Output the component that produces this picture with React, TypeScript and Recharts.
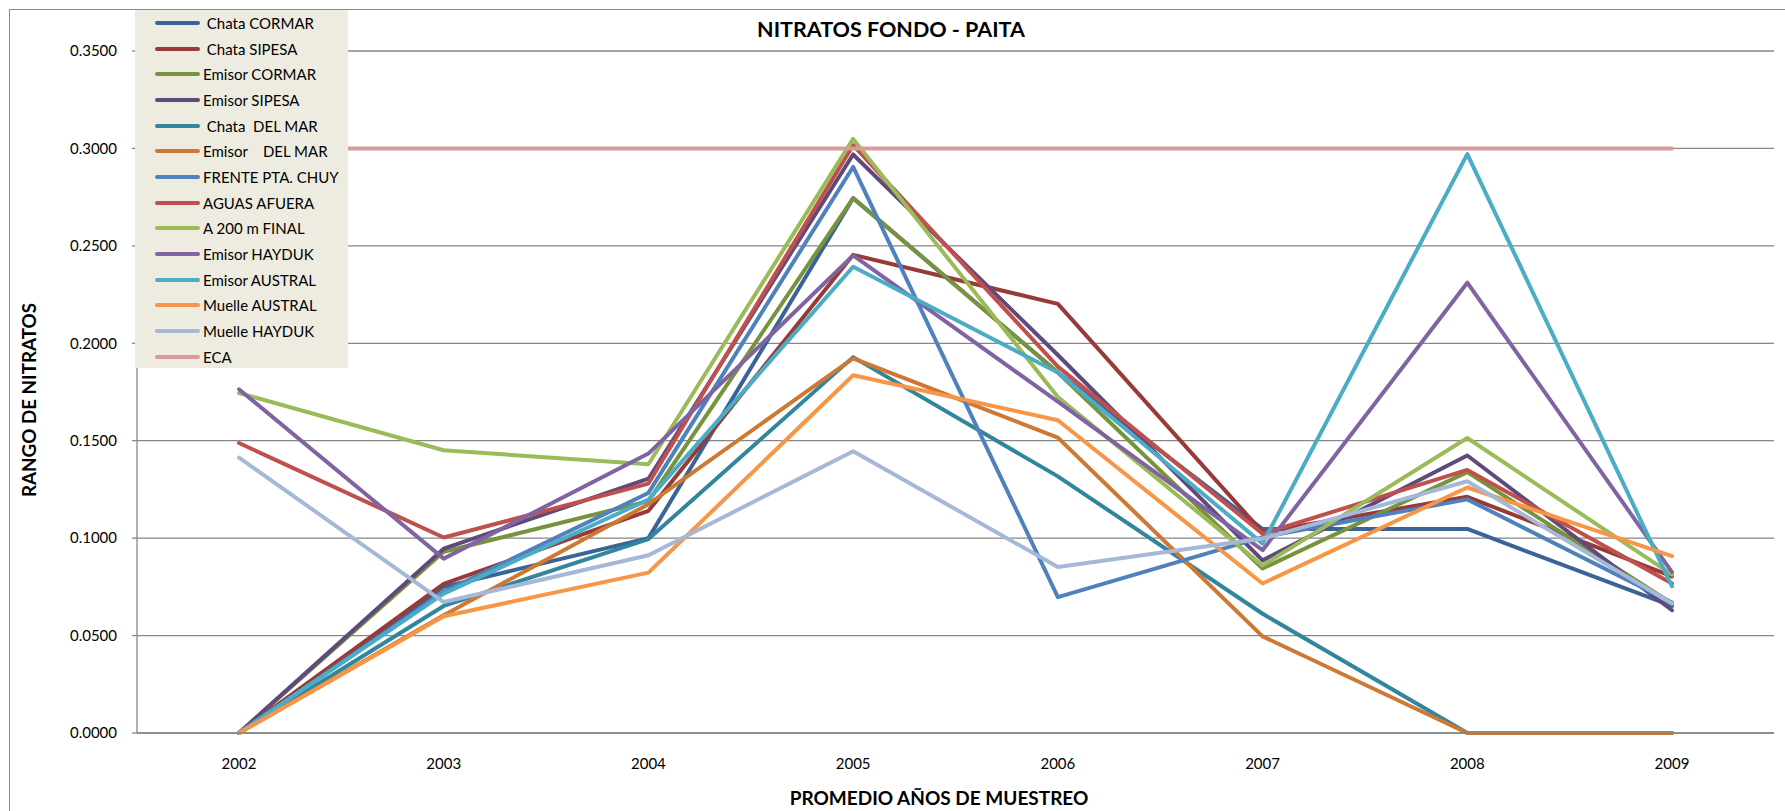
import React from 'react';
import { LineChart, Line, XAxis, YAxis, CartesianGrid, Legend } from 'recharts';

const YEARS = ['2002', '2003', '2004', '2005', '2006', '2007', '2008', '2009'];
const Y_TICKS = [0, 0.05, 0.1, 0.15, 0.2, 0.25, 0.3, 0.35];

const CHATA_CORMAR = [0, 0.075, 0.1, 0.2745, 0.185, 0.1047, 0.1047, 0.0652];
const CHATA_SIPESA = [0, 0.0765, 0.114, 0.2454, 0.2202, 0.103, 0.1212, 0.0804];
const EMISOR_CORMAR = [0, 0.093, 0.119, 0.2745, 0.185, 0.0844, 0.1339, 0.0665];
const EMISOR_SIPESA = [0, 0.0946, 0.1305, 0.2969, 0.194, 0.0886, 0.1424, 0.063];
const CHATA_DEL_MAR = [0, 0.0652, 0.0995, 0.1929, 0.1317, 0.0612, 0, 0];
const EMISOR_DEL_MAR = [0, 0.0604, 0.1174, 0.1923, 0.1516, 0.0496, 0, 0];
const FRENTE_PTA_CHUY = [0, 0.0724, 0.1232, 0.2905, 0.0697, 0.1005, 0.1199, 0.067];
const AGUAS_AFUERA = [0.1488, 0.1003, 0.128, 0.3017, 0.188, 0.1023, 0.135, 0.0767];
const A_200_M_FINAL = [0.1745, 0.1451, 0.1379, 0.3049, 0.1724, 0.086, 0.1514, 0.0813];
const EMISOR_HAYDUK = [0.1764, 0.0895, 0.1434, 0.2451, 0.17, 0.0938, 0.2311, 0.0826];
const EMISOR_AUSTRAL = [0, 0.0715, 0.1198, 0.2393, 0.185, 0.0972, 0.2971, 0.0753];
const MUELLE_AUSTRAL = [0, 0.0599, 0.0823, 0.1836, 0.1605, 0.0767, 0.126, 0.0908];
const MUELLE_HAYDUK = [0.1413, 0.0672, 0.0912, 0.1446, 0.0852, 0.0998, 0.1292, 0.0665];
const ECA = [0.3, 0.3, 0.3, 0.3, 0.3, 0.3, 0.3, 0.3];

const SERIES = [
  { key: 's1', label: ' Chata CORMAR', color: '#3A6397', values: CHATA_CORMAR },
  { key: 's2', label: ' Chata SIPESA', color: '#973A38', values: CHATA_SIPESA },
  { key: 's3', label: 'Emisor CORMAR', color: '#77933C', values: EMISOR_CORMAR },
  { key: 's4', label: 'Emisor SIPESA', color: '#604A7B', values: EMISOR_SIPESA },
  { key: 's5', label: ' Chata  DEL MAR', color: '#31859C', values: CHATA_DEL_MAR },
  { key: 's6', label: 'Emisor    DEL MAR', color: '#CD7833', values: EMISOR_DEL_MAR },
  { key: 's7', label: 'FRENTE PTA. CHUY', color: '#4F81BD', values: FRENTE_PTA_CHUY },
  { key: 's8', label: 'AGUAS AFUERA', color: '#C0504D', values: AGUAS_AFUERA },
  { key: 's9', label: 'A 200 m FINAL', color: '#9BBB59', values: A_200_M_FINAL },
  { key: 's10', label: 'Emisor HAYDUK', color: '#8064A2', values: EMISOR_HAYDUK },
  { key: 's11', label: 'Emisor AUSTRAL', color: '#4BACC6', values: EMISOR_AUSTRAL },
  { key: 's12', label: 'Muelle AUSTRAL', color: '#F79646', values: MUELLE_AUSTRAL },
  { key: 's13', label: 'Muelle HAYDUK', color: '#A5B8D8', values: MUELLE_HAYDUK },
  { key: 's14', label: 'ECA', color: '#D99A98', values: ECA },
];

const DATA = YEARS.map((year, i) => {
  const row: Record<string, string | number> = { year };
  SERIES.forEach((s) => {
    row[s.key] = s.values[i];
  });
  return row;
});

const FONT = 'Lato, "Open Sans", sans-serif';
const GRID = '#868686';

const renderLegend = () => (
  <div
    style={{
      background: '#EEECE1',
      width: 213,
      height: 358,
      boxSizing: 'border-box',
      paddingTop: 0,
      fontFamily: FONT,
      fontSize: 15,
      color: '#000',
    }}
  >
    {SERIES.map((s) => (
      <div key={s.key} style={{ display: 'flex', alignItems: 'center', height: 25.7 }}>
        <div
          style={{
            marginLeft: 20,
            width: 45,
            height: 4,
            borderRadius: 2,
            background: s.color,
          }}
        />
        <span style={{ marginLeft: 3, whiteSpace: 'pre' }}>{s.label}</span>
      </div>
    ))}
  </div>
);

export default function App() {
  return (
    <div
      style={{
        position: 'absolute',
        left: 0,
        top: 0,
        width: 1785,
        height: 811,
        overflow: 'hidden',
        background: '#fff',
        fontFamily: FONT,
      }}
    >
      <div
        style={{
          position: 'absolute',
          left: 9,
          top: 9,
          width: 1900,
          height: 900,
          borderLeft: '1.3px solid #8a8a8a',
          borderTop: '1.3px solid #8a8a8a',
        }}
      />
      <LineChart
        width={1785}
        height={811}
        data={DATA}
        margin={{ top: 51, right: 11, bottom: 48, left: 0 }}
      >
        <CartesianGrid vertical={false} stroke={GRID} strokeWidth={1.3} />
        <XAxis
          dataKey="year"
          height={30}
          padding={{ left: 102, right: 102 }}
          tickLine={false}
          tickSize={5}
          tickMargin={20}
          axisLine={{ stroke: GRID, strokeWidth: 1.3 }}
          tick={{ fill: '#000', fontSize: 15, fontFamily: FONT }}
        />
        <YAxis
          width={137}
          domain={[0, 0.35]}
          ticks={Y_TICKS}
          interval={0}
          tickFormatter={(v: number) => v.toFixed(4)}
          tickSize={5}
          tickMargin={15}
          tickLine={{ stroke: GRID, strokeWidth: 1.3 }}
          axisLine={{ stroke: GRID, strokeWidth: 1.3 }}
          tick={{ fill: '#000', fontSize: 15, fontFamily: FONT }}
        />
        {SERIES.map((s) => (
          <Line
            key={s.key}
            type="linear"
            dataKey={s.key}
            name={s.label}
            stroke={s.color}
            strokeWidth={4}
            strokeLinecap="round"
            strokeLinejoin="round"
            dot={false}
            activeDot={false}
            isAnimationActive={false}
          />
        ))}
        <Legend
          layout="vertical"
          align="center"
          verticalAlign="middle"
          content={renderLegend}
          wrapperStyle={{ left: 135, top: 10, width: 213, height: 358 }}
        />
      </LineChart>
      <div
        style={{
          position: 'absolute',
          left: 891,
          top: 30,
          transform: 'translate(-50%, -50%)',
          fontWeight: 700,
          fontSize: 21.5,
          lineHeight: 1,
          whiteSpace: 'nowrap',
        }}
      >
        NITRATOS FONDO - PAITA
      </div>
      <div
        style={{
          position: 'absolute',
          left: 939,
          top: 797,
          transform: 'translate(-50%, -50%)',
          fontWeight: 700,
          fontSize: 19,
          lineHeight: 1,
          whiteSpace: 'nowrap',
        }}
      >
        PROMEDIO AÑOS DE MUESTREO
      </div>
      <div
        style={{
          position: 'absolute',
          left: 29,
          top: 400,
          transform: 'translate(-50%, -50%) rotate(-90deg)',
          fontWeight: 700,
          fontSize: 18.8,
          lineHeight: 1,
          whiteSpace: 'nowrap',
        }}
      >
        RANGO DE NITRATOS
      </div>
    </div>
  );
}
